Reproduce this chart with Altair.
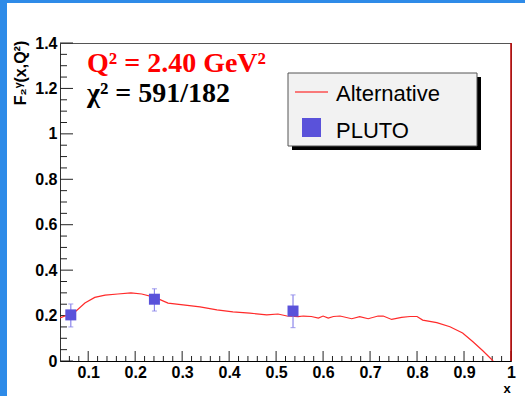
import altair as alt
import pandas as pd

# ---------------- data ----------------
curve_x = [0.040, 0.072, 0.093, 0.114, 0.136, 0.163, 0.191, 0.214, 0.242, 0.270,
           0.302, 0.338, 0.374, 0.408, 0.444, 0.480, 0.504, 0.523, 0.547, 0.558,
           0.575, 0.590, 0.600, 0.611, 0.622, 0.636, 0.661, 0.678, 0.696, 0.717,
           0.728, 0.746, 0.767, 0.785, 0.800, 0.812, 0.842, 0.870, 0.897, 0.919,
           0.940, 0.962]
curve_y = [0.190, 0.216, 0.255, 0.280, 0.290, 0.295, 0.300, 0.295, 0.280, 0.255,
           0.247, 0.238, 0.225, 0.216, 0.211, 0.203, 0.207, 0.198, 0.195, 0.198,
           0.196, 0.189, 0.198, 0.189, 0.196, 0.198, 0.186, 0.195, 0.186, 0.198,
           0.198, 0.183, 0.192, 0.196, 0.196, 0.180, 0.169, 0.151, 0.123, 0.085,
           0.045, 0.000]

pluto_x = [0.063, 0.241, 0.536]
pluto_y = [0.203, 0.272, 0.220]
pluto_lo = [0.150, 0.220, 0.147]
pluto_hi = [0.251, 0.318, 0.291]

x_major = [0.1, 0.2, 0.3, 0.4, 0.5, 0.6, 0.7, 0.8, 0.9, 1.0]
x_minor = [0.06, 0.08, 0.12, 0.14, 0.16, 0.18, 0.22, 0.24, 0.26, 0.28,
           0.32, 0.34, 0.36, 0.38, 0.42, 0.44, 0.46, 0.48, 0.52, 0.54,
           0.56, 0.58, 0.62, 0.64, 0.66, 0.68, 0.72, 0.74, 0.76, 0.78,
           0.82, 0.84, 0.86, 0.88, 0.92, 0.94, 0.96, 0.98]
y_major = [0, 0.2, 0.4, 0.6, 0.8, 1.0, 1.2, 1.4]
y_minor = [0.05, 0.1, 0.15, 0.25, 0.3, 0.35, 0.45, 0.5, 0.55, 0.65, 0.7, 0.75,
           0.85, 0.9, 0.95, 1.05, 1.1, 1.15, 1.25, 1.3, 1.35]

W, H = 451, 318
XDOM = [0.04, 1.0]
YDOM = [0.0, 1.4]

curve_df = pd.DataFrame({"x": curve_x, "y": curve_y})
pluto_df = pd.DataFrame({"x": pluto_x, "y": pluto_y, "lo": pluto_lo, "hi": pluto_hi})
one = pd.DataFrame({"a": [0]})

xs = alt.Scale(domain=XDOM, nice=False, zero=False)
ys = alt.Scale(domain=YDOM, nice=False, zero=False)

x_axis = alt.Axis(values=x_major, format=".1~f", labelFont="Liberation Sans",
                  labelFontWeight="bold", labelFontSize=16, labelColor="black",
                  ticks=False, grid=False, domainColor="black", labelPadding=3,
                  title=None, labelFlush=False)
y_axis = alt.Axis(values=y_major, format=".1~f", labelFont="Liberation Sans",
                  labelFontWeight="bold", labelFontSize=16, labelColor="black",
                  ticks=False, grid=False, domainColor="#333", labelPadding=3,
                  title=None, labelFlush=False)

# blue slide frame
blue = "#2e8be8"
frame_top = alt.Chart(one).mark_rect(color=blue).encode(
    x=alt.value(-60), x2=alt.value(W + 14), y=alt.value(-43), y2=alt.value(-40))
frame_left = alt.Chart(one).mark_rect(color=blue).encode(
    x=alt.value(-60), x2=alt.value(-53), y=alt.value(-43), y2=alt.value(H + 35))

# axes carrier
axes = alt.Chart(curve_df).mark_point(opacity=0).encode(
    x=alt.X("x:Q", scale=xs, axis=x_axis),
    y=alt.Y("y:Q", scale=ys, axis=y_axis))

tick_col = "#222"
xmaj = alt.Chart(pd.DataFrame({"t": x_major})).mark_rule(color=tick_col).encode(
    x=alt.X("t:Q", scale=xs), y=alt.value(H), y2=alt.value(H - 10))
xmin = alt.Chart(pd.DataFrame({"t": x_minor})).mark_rule(color=tick_col).encode(
    x=alt.X("t:Q", scale=xs), y=alt.value(H), y2=alt.value(H - 5))
ymaj = alt.Chart(pd.DataFrame({"t": y_major})).mark_rule(color=tick_col).encode(
    y=alt.Y("t:Q", scale=ys), x=alt.value(0), x2=alt.value(13))
ymin = alt.Chart(pd.DataFrame({"t": y_minor})).mark_rule(color=tick_col).encode(
    y=alt.Y("t:Q", scale=ys), x=alt.value(0), x2=alt.value(7))

right_line = alt.Chart(one).mark_rule(color="#c00000", strokeWidth=1.5).encode(
    x=alt.value(W), y=alt.value(0), y2=alt.value(H))

line = alt.Chart(curve_df).mark_line(color="#ff2a2a", strokeWidth=1.2, clip=True).encode(
    x=alt.X("x:Q", scale=xs), y=alt.Y("y:Q", scale=ys))

err = alt.Chart(pluto_df).mark_rule(color="#8c86ea", strokeWidth=1.2).encode(
    x=alt.X("x:Q", scale=xs), y=alt.Y("lo:Q", scale=ys), y2="hi:Q")
cap_hi = alt.Chart(pluto_df).mark_tick(color="#8c86ea", orient="horizontal",
                                       size=5, thickness=1.2).encode(
    x=alt.X("x:Q", scale=xs), y=alt.Y("hi:Q", scale=ys))
cap_lo = alt.Chart(pluto_df).mark_tick(color="#8c86ea", orient="horizontal",
                                       size=5, thickness=1.2).encode(
    x=alt.X("x:Q", scale=xs), y=alt.Y("lo:Q", scale=ys))
pts = alt.Chart(pluto_df).mark_square(color="#5a52da", opacity=1, size=121).encode(
    x=alt.X("x:Q", scale=xs), y=alt.Y("y:Q", scale=ys))

# labels
q2 = alt.Chart(one).mark_text(text="Q² = 2.40 GeV²", font="Liberation Serif",
                              fontWeight="bold", fontSize=28, color="#ff0000",
                              align="left", baseline="alphabetic").encode(
    x=alt.value(27), y=alt.value(29))
chi2 = alt.Chart(one).mark_text(text="χ² = 591/182", font="Liberation Serif",
                                fontWeight="bold", fontSize=28, color="black",
                                align="left", baseline="alphabetic").encode(
    x=alt.value(27), y=alt.value(59))

ytitle = alt.Chart(one).mark_text(text="F₂ᵞ(x,Q²)", font="Liberation Sans",
                                  fontWeight="bold", fontSize=16, color="black",
                                  angle=270, align="center", baseline="middle").encode(
    x=alt.value(-39), y=alt.value(30))
xtitle = alt.Chart(one).mark_text(text="x", font="Liberation Sans",
                                  fontWeight="bold", fontSize=13, color="black",
                                  align="center", baseline="middle").encode(
    x=alt.value(447), y=alt.value(346))

# legend box
shadow = alt.Chart(one).mark_rect(color="black").encode(
    x=alt.value(232), x2=alt.value(421), y=alt.value(34), y2=alt.value(107))
box = alt.Chart(one).mark_rect(fill="#f2f2f2", stroke="#555", strokeWidth=1).encode(
    x=alt.value(228), x2=alt.value(417), y=alt.value(30), y2=alt.value(103))
leg_line = alt.Chart(one).mark_rule(color="#ff0000", strokeWidth=1.2).encode(
    x=alt.value(235), x2=alt.value(268), y=alt.value(49))
leg_txt1 = alt.Chart(one).mark_text(text="Alternative", font="Liberation Sans",
                                    fontSize=22, color="black", align="left",
                                    baseline="alphabetic").encode(
    x=alt.value(276), y=alt.value(58))
leg_sq = alt.Chart(one).mark_square(color="#5a52da", opacity=1, size=361).encode(
    x=alt.value(251.5), y=alt.value(84.5))
leg_txt2 = alt.Chart(one).mark_text(text="PLUTO", font="Liberation Sans",
                                    fontSize=22, color="black", align="left",
                                    baseline="alphabetic").encode(
    x=alt.value(276), y=alt.value(95))

chart = alt.layer(
    frame_top, frame_left, axes, xmaj, xmin, ymaj, ymin, line, err, cap_hi, cap_lo,
    pts, right_line, q2, chi2, ytitle, xtitle, shadow, box, leg_line, leg_txt1,
    leg_sq, leg_txt2
).properties(
    width=W, height=H,
    autosize=alt.AutoSizeParams(type="none"),
    padding={"left": 60, "top": 43, "right": 14, "bottom": 35},
    background="white",
).configure_view(stroke="#555", strokeWidth=1)

chart.save("out.html", embed_options={"renderer": "svg", "actions": False})
